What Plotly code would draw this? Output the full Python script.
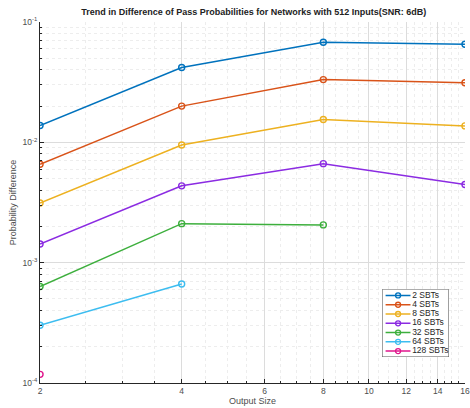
import numpy as np
import plotly.graph_objects as go

# Output sizes (x) and pass-probability differences per SBT configuration
output_size = [2, 4, 8, 16]
sbt_2 = [0.0138, 0.0419, 0.0678, 0.0653]
sbt_4 = [0.00658, 0.0200, 0.0332, 0.0313]
sbt_8 = [0.00313, 0.0095, 0.0155, 0.0137]
sbt_16 = [0.00143, 0.00435, 0.00665, 0.00446]
sbt_32 = [0.000634, 0.00211, 0.00206]
sbt_64 = [0.000302, 0.000665]
sbt_128 = [0.000118]

series_names = ["2 SBTs", "4 SBTs", "8 SBTs", "16 SBTs", "32 SBTs", "64 SBTs", "128 SBTs"]
series_values = [sbt_2, sbt_4, sbt_8, sbt_16, sbt_32, sbt_64, sbt_128]
colors = ["#0072BD", "#D95319", "#EDB120", "#8B2BE2", "#3DAF3D", "#3DBDF0", "#E0168C"]

x_ticks = [2, 4, 6, 8, 10, 12, 14, 16]
y_ticks = [1e-4, 1e-3, 1e-2, 1e-1]
y_tick_text = ["10<sup>-4</sup>", "10<sup>-3</sup>", "10<sup>-2</sup>", "10<sup>-1</sup>"]
x_minor = [v for v in np.arange(2.5, 16, 0.5) if v not in x_ticks]
y_minor = [k * 10.0 ** e for e in range(-4, -1) for k in range(2, 10)]

FONT = "Liberation Sans, Arial, sans-serif"
GRID = "#DCDCDC"
MINOR_GRID = "#EDEDED"
AXIS = "#262626"
LABEL = "#4D4D4D"

fig = go.Figure()

for name, vals, col in zip(series_names, series_values, colors):
    fig.add_trace(go.Scatter(
        x=output_size[:len(vals)], y=vals, name=name, mode="lines+markers",
        line=dict(color=col, width=1.5),
        marker=dict(symbol="circle-open", size=6, color=col, line=dict(width=1.4, color=col)),
        showlegend=False, xaxis="x", yaxis="y",
    ))

# Legend drawn on its own small overlay subplot
n = len(series_names)
for i, (name, col) in enumerate(zip(series_names, colors)):
    yy = 0.907 - i * (0.907 - 0.087) / (n - 1)
    fig.add_trace(go.Scatter(
        x=[0.052, 0.425], y=[yy, yy], mode="lines", line=dict(color=col, width=1.5),
        showlegend=False, hoverinfo="skip", xaxis="x2", yaxis="y2"))
    fig.add_trace(go.Scatter(
        x=[0.239], y=[yy], mode="markers",
        marker=dict(symbol="circle-open", size=5, color=col, line=dict(width=1.3, color=col)),
        showlegend=False, hoverinfo="skip", xaxis="x2", yaxis="y2"))
    fig.add_trace(go.Scatter(
        x=[0.45], y=[yy], mode="text", text=[name], textposition="middle right",
        textfont=dict(family=FONT, size=8.5, color=AXIS),
        showlegend=False, hoverinfo="skip", xaxis="x2", yaxis="y2"))

fig.add_shape(type="rect", xref="x2", yref="y2", x0=0, x1=1, y0=0, y1=1,
              fillcolor="white", line=dict(color=AXIS, width=0.8), layer="between")

fig.update_layout(
    width=470, height=408,
    margin=dict(l=40, r=5, t=22, b=25),
    paper_bgcolor="white", plot_bgcolor="white",
    font=dict(family=FONT, size=8.5, color=LABEL),
    title=dict(text="<b>Trend in Difference of Pass Probabilities for Networks with 512 Inputs(SNR: 6dB)</b>",
               x=0.54, xanchor="center", y=0.972, yanchor="middle",
               font=dict(family=FONT, size=9, color="#222222")),
    xaxis=dict(
        type="log", range=[np.log10(2) - 1e-4, np.log10(16) + 1e-4],
        tickmode="array", tickvals=x_ticks, ticktext=[str(v) for v in x_ticks],
        ticklabeloverflow="allow", automargin=False,
        ticks="inside", ticklen=4, tickcolor=AXIS, tickwidth=1,
        showgrid=True, gridcolor=GRID, gridwidth=1,
        showline=True, linecolor=AXIS, linewidth=1, mirror=False,
        zeroline=False,
        minor=dict(tickmode="array", tickvals=x_minor, ticks="inside", ticklen=2,
                   tickcolor=AXIS, showgrid=True, gridcolor=MINOR_GRID, griddash="dot", gridwidth=1),
        title=dict(text="Output Size", standoff=2, font=dict(family=FONT, size=9, color=LABEL)),
        tickfont=dict(family=FONT, size=8.5, color=LABEL),
        domain=[0, 1],
    ),
    yaxis=dict(
        type="log", range=[-4, -1],
        tickmode="array", tickvals=y_ticks, ticktext=y_tick_text, automargin=False,
        ticks="inside", ticklen=4, tickcolor=AXIS, tickwidth=1,
        showgrid=True, gridcolor=GRID, gridwidth=1,
        showline=True, linecolor=AXIS, linewidth=1, mirror=False,
        zeroline=False,
        minor=dict(tickmode="array", tickvals=y_minor, ticks="inside", ticklen=2,
                   tickcolor=AXIS, showgrid=True, gridcolor=MINOR_GRID, griddash="dot", gridwidth=1),
        title=dict(text="Probability Difference", standoff=4, font=dict(family=FONT, size=9, color=LABEL)),
        tickfont=dict(family=FONT, size=8.5, color=LABEL),
        domain=[0, 1],
    ),
    xaxis2=dict(domain=[0.805, 0.962], range=[0, 1], visible=False, anchor="y2"),
    yaxis2=dict(domain=[0.072, 0.260], range=[0, 1], visible=False, anchor="x2"),
)

fig.write_html("out.html")
